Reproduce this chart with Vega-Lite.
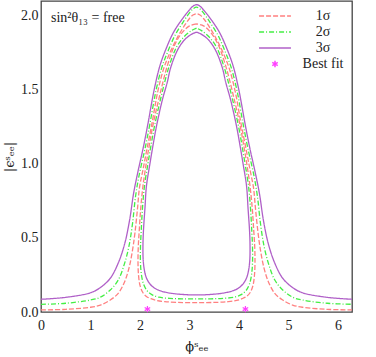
{
  "$schema": "https://vega.github.io/schema/vega-lite/v6.json",
  "autosize": {"type": "none"},
  "padding": {"left": 41, "top": 1, "right": 24, "bottom": 45},
  "width": 311,
  "height": 311,
  "title": {"text": "sin²θ₁₃ = free", "anchor": "start", "frame": "group", "orient": "top", "offset": -24, "dx": 10, "font": "Liberation Serif", "fontSize": 14, "fontWeight": "normal", "color": "#222"},
  "config": {
    "view": {"stroke": "#444", "strokeWidth": 1.3},
    "font": "Liberation Serif"
  },
  "datasets": {
    "curves": [
      {"c":"o3","s":"3σ","i":0,"x":0,"y":0.086},{"c":"o3","s":"3σ","i":1,"x":0.5,"y":0.099},{"c":"o3","s":"3σ","i":2,"x":1.0,"y":0.13},{"c":"o3","s":"3σ","i":3,"x":1.2,"y":0.165},{"c":"o3","s":"3σ","i":4,"x":1.4,"y":0.228},{"c":"o3","s":"3σ","i":5,"x":1.56,"y":0.33},{"c":"o3","s":"3σ","i":6,"x":1.69,"y":0.46},{"c":"o3","s":"3σ","i":7,"x":1.79,"y":0.62},{"c":"o3","s":"3σ","i":8,"x":1.87,"y":0.8},{"c":"o3","s":"3σ","i":9,"x":1.96,"y":0.95},{"c":"o3","s":"3σ","i":10,"x":2.06,"y":1.1},{"c":"o3","s":"3σ","i":11,"x":2.16,"y":1.27},{"c":"o3","s":"3σ","i":12,"x":2.28,"y":1.49},{"c":"o3","s":"3σ","i":13,"x":2.4,"y":1.66},{"c":"o3","s":"3σ","i":14,"x":2.53,"y":1.78},{"c":"o3","s":"3σ","i":15,"x":2.68,"y":1.89},{"c":"o3","s":"3σ","i":16,"x":2.88,"y":1.99},{"c":"o3","s":"3σ","i":17,"x":3.0,"y":2.04},{"c":"o3","s":"3σ","i":18,"x":3.07,"y":2.065},{"c":"o3","s":"3σ","i":19,"x":3.142,"y":2.075},{"c":"o3","s":"3σ","i":20,"x":3.213,"y":2.065},{"c":"o3","s":"3σ","i":21,"x":3.283,"y":2.04},{"c":"o3","s":"3σ","i":22,"x":3.403,"y":1.99},{"c":"o3","s":"3σ","i":23,"x":3.603,"y":1.89},{"c":"o3","s":"3σ","i":24,"x":3.753,"y":1.78},{"c":"o3","s":"3σ","i":25,"x":3.883,"y":1.66},{"c":"o3","s":"3σ","i":26,"x":4.003,"y":1.49},{"c":"o3","s":"3σ","i":27,"x":4.123,"y":1.27},{"c":"o3","s":"3σ","i":28,"x":4.223,"y":1.1},{"c":"o3","s":"3σ","i":29,"x":4.323,"y":0.95},{"c":"o3","s":"3σ","i":30,"x":4.413,"y":0.8},{"c":"o3","s":"3σ","i":31,"x":4.493,"y":0.62},{"c":"o3","s":"3σ","i":32,"x":4.593,"y":0.46},{"c":"o3","s":"3σ","i":33,"x":4.723,"y":0.33},{"c":"o3","s":"3σ","i":34,"x":4.883,"y":0.228},{"c":"o3","s":"3σ","i":35,"x":5.083,"y":0.165},{"c":"o3","s":"3σ","i":36,"x":5.283,"y":0.13},{"c":"o3","s":"3σ","i":37,"x":5.783,"y":0.099},{"c":"o3","s":"3σ","i":38,"x":6.283,"y":0.086},

      {"c":"o2","s":"2σ","i":0,"x":0,"y":0.052},{"c":"o2","s":"2σ","i":1,"x":0.5,"y":0.059},{"c":"o2","s":"2σ","i":2,"x":1.0,"y":0.081},{"c":"o2","s":"2σ","i":3,"x":1.2,"y":0.1},{"c":"o2","s":"2σ","i":4,"x":1.4,"y":0.149},{"c":"o2","s":"2σ","i":5,"x":1.56,"y":0.216},{"c":"o2","s":"2σ","i":6,"x":1.69,"y":0.33},{"c":"o2","s":"2σ","i":7,"x":1.78,"y":0.45},{"c":"o2","s":"2σ","i":8,"x":1.85,"y":0.6},{"c":"o2","s":"2σ","i":9,"x":1.91,"y":0.78},{"c":"o2","s":"2σ","i":10,"x":1.98,"y":0.92},{"c":"o2","s":"2σ","i":11,"x":2.1,"y":1.1},{"c":"o2","s":"2σ","i":12,"x":2.2,"y":1.27},{"c":"o2","s":"2σ","i":13,"x":2.32,"y":1.49},{"c":"o2","s":"2σ","i":14,"x":2.44,"y":1.65},{"c":"o2","s":"2σ","i":15,"x":2.57,"y":1.765},{"c":"o2","s":"2σ","i":16,"x":2.71,"y":1.87},{"c":"o2","s":"2σ","i":17,"x":2.89,"y":1.967},{"c":"o2","s":"2σ","i":18,"x":3.0,"y":2.02},{"c":"o2","s":"2σ","i":19,"x":3.07,"y":2.046},{"c":"o2","s":"2σ","i":20,"x":3.142,"y":2.058},{"c":"o2","s":"2σ","i":21,"x":3.213,"y":2.046},{"c":"o2","s":"2σ","i":22,"x":3.283,"y":2.02},{"c":"o2","s":"2σ","i":23,"x":3.393,"y":1.967},{"c":"o2","s":"2σ","i":24,"x":3.573,"y":1.87},{"c":"o2","s":"2σ","i":25,"x":3.713,"y":1.765},{"c":"o2","s":"2σ","i":26,"x":3.843,"y":1.65},{"c":"o2","s":"2σ","i":27,"x":3.963,"y":1.49},{"c":"o2","s":"2σ","i":28,"x":4.083,"y":1.27},{"c":"o2","s":"2σ","i":29,"x":4.183,"y":1.1},{"c":"o2","s":"2σ","i":30,"x":4.303,"y":0.92},{"c":"o2","s":"2σ","i":31,"x":4.373,"y":0.78},{"c":"o2","s":"2σ","i":32,"x":4.433,"y":0.6},{"c":"o2","s":"2σ","i":33,"x":4.503,"y":0.45},{"c":"o2","s":"2σ","i":34,"x":4.593,"y":0.33},{"c":"o2","s":"2σ","i":35,"x":4.723,"y":0.216},{"c":"o2","s":"2σ","i":36,"x":4.883,"y":0.149},{"c":"o2","s":"2σ","i":37,"x":5.083,"y":0.1},{"c":"o2","s":"2σ","i":38,"x":5.283,"y":0.081},{"c":"o2","s":"2σ","i":39,"x":5.783,"y":0.059},{"c":"o2","s":"2σ","i":40,"x":6.283,"y":0.052},

      {"c":"o1","s":"1σ","i":0,"x":0,"y":0.014},{"c":"o1","s":"1σ","i":1,"x":0.5,"y":0.018},{"c":"o1","s":"1σ","i":2,"x":1.0,"y":0.032},{"c":"o1","s":"1σ","i":3,"x":1.2,"y":0.047},{"c":"o1","s":"1σ","i":4,"x":1.4,"y":0.081},{"c":"o1","s":"1σ","i":5,"x":1.56,"y":0.126},{"c":"o1","s":"1σ","i":6,"x":1.69,"y":0.205},{"c":"o1","s":"1σ","i":7,"x":1.78,"y":0.3},{"c":"o1","s":"1σ","i":8,"x":1.85,"y":0.42},{"c":"o1","s":"1σ","i":9,"x":1.9,"y":0.54},{"c":"o1","s":"1σ","i":10,"x":1.95,"y":0.7},{"c":"o1","s":"1σ","i":11,"x":1.99,"y":0.84},{"c":"o1","s":"1σ","i":12,"x":2.06,"y":0.96},{"c":"o1","s":"1σ","i":13,"x":2.14,"y":1.1},{"c":"o1","s":"1σ","i":14,"x":2.24,"y":1.27},{"c":"o1","s":"1σ","i":15,"x":2.36,"y":1.49},{"c":"o1","s":"1σ","i":16,"x":2.48,"y":1.645},{"c":"o1","s":"1σ","i":17,"x":2.61,"y":1.755},{"c":"o1","s":"1σ","i":18,"x":2.75,"y":1.85},{"c":"o1","s":"1σ","i":19,"x":2.91,"y":1.94},{"c":"o1","s":"1σ","i":20,"x":3.0,"y":1.982},{"c":"o1","s":"1σ","i":21,"x":3.07,"y":2.005},{"c":"o1","s":"1σ","i":22,"x":3.142,"y":2.014},{"c":"o1","s":"1σ","i":23,"x":3.213,"y":2.005},{"c":"o1","s":"1σ","i":24,"x":3.283,"y":1.982},{"c":"o1","s":"1σ","i":25,"x":3.373,"y":1.94},{"c":"o1","s":"1σ","i":26,"x":3.533,"y":1.85},{"c":"o1","s":"1σ","i":27,"x":3.673,"y":1.755},{"c":"o1","s":"1σ","i":28,"x":3.803,"y":1.645},{"c":"o1","s":"1σ","i":29,"x":3.923,"y":1.49},{"c":"o1","s":"1σ","i":30,"x":4.043,"y":1.27},{"c":"o1","s":"1σ","i":31,"x":4.143,"y":1.1},{"c":"o1","s":"1σ","i":32,"x":4.223,"y":0.96},{"c":"o1","s":"1σ","i":33,"x":4.293,"y":0.84},{"c":"o1","s":"1σ","i":34,"x":4.333,"y":0.7},{"c":"o1","s":"1σ","i":35,"x":4.383,"y":0.54},{"c":"o1","s":"1σ","i":36,"x":4.433,"y":0.42},{"c":"o1","s":"1σ","i":37,"x":4.503,"y":0.3},{"c":"o1","s":"1σ","i":38,"x":4.593,"y":0.205},{"c":"o1","s":"1σ","i":39,"x":4.723,"y":0.126},{"c":"o1","s":"1σ","i":40,"x":4.883,"y":0.081},{"c":"o1","s":"1σ","i":41,"x":5.083,"y":0.047},{"c":"o1","s":"1σ","i":42,"x":5.283,"y":0.032},{"c":"o1","s":"1σ","i":43,"x":5.783,"y":0.018},{"c":"o1","s":"1σ","i":44,"x":6.283,"y":0.014},

      {"c":"i3","s":"3σ","i":0,"x":3.142,"y":1.89},{"c":"i3","s":"3σ","i":1,"x":3.04,"y":1.875},{"c":"i3","s":"3σ","i":2,"x":2.9,"y":1.838},{"c":"i3","s":"3σ","i":3,"x":2.76,"y":1.77},{"c":"i3","s":"3σ","i":4,"x":2.62,"y":1.65},{"c":"i3","s":"3σ","i":5,"x":2.55,"y":1.55},{"c":"i3","s":"3σ","i":6,"x":2.45,"y":1.43},{"c":"i3","s":"3σ","i":7,"x":2.33,"y":1.25},{"c":"i3","s":"3σ","i":8,"x":2.26,"y":1.12},{"c":"i3","s":"3σ","i":9,"x":2.2,"y":1.0},{"c":"i3","s":"3σ","i":10,"x":2.13,"y":0.85},{"c":"i3","s":"3σ","i":11,"x":2.1,"y":0.7},{"c":"i3","s":"3σ","i":12,"x":2.07,"y":0.55},{"c":"i3","s":"3σ","i":13,"x":2.06,"y":0.45},{"c":"i3","s":"3σ","i":14,"x":2.065,"y":0.35},{"c":"i3","s":"3σ","i":15,"x":2.09,"y":0.28},{"c":"i3","s":"3σ","i":16,"x":2.13,"y":0.23},{"c":"i3","s":"3σ","i":17,"x":2.2,"y":0.19},{"c":"i3","s":"3σ","i":18,"x":2.3,"y":0.16},{"c":"i3","s":"3σ","i":19,"x":2.42,"y":0.142},{"c":"i3","s":"3σ","i":20,"x":2.6,"y":0.128},{"c":"i3","s":"3σ","i":21,"x":2.8,"y":0.12},{"c":"i3","s":"3σ","i":22,"x":3.0,"y":0.116},{"c":"i3","s":"3σ","i":23,"x":3.142,"y":0.115},{"c":"i3","s":"3σ","i":24,"x":3.283,"y":0.116},{"c":"i3","s":"3σ","i":25,"x":3.483,"y":0.12},{"c":"i3","s":"3σ","i":26,"x":3.683,"y":0.128},{"c":"i3","s":"3σ","i":27,"x":3.863,"y":0.142},{"c":"i3","s":"3σ","i":28,"x":3.983,"y":0.16},{"c":"i3","s":"3σ","i":29,"x":4.083,"y":0.19},{"c":"i3","s":"3σ","i":30,"x":4.153,"y":0.23},{"c":"i3","s":"3σ","i":31,"x":4.193,"y":0.28},{"c":"i3","s":"3σ","i":32,"x":4.218,"y":0.35},{"c":"i3","s":"3σ","i":33,"x":4.223,"y":0.45},{"c":"i3","s":"3σ","i":34,"x":4.213,"y":0.55},{"c":"i3","s":"3σ","i":35,"x":4.183,"y":0.7},{"c":"i3","s":"3σ","i":36,"x":4.153,"y":0.85},{"c":"i3","s":"3σ","i":37,"x":4.083,"y":1.0},{"c":"i3","s":"3σ","i":38,"x":4.023,"y":1.12},{"c":"i3","s":"3σ","i":39,"x":3.953,"y":1.25},{"c":"i3","s":"3σ","i":40,"x":3.833,"y":1.43},{"c":"i3","s":"3σ","i":41,"x":3.733,"y":1.55},{"c":"i3","s":"3σ","i":42,"x":3.663,"y":1.65},{"c":"i3","s":"3σ","i":43,"x":3.523,"y":1.77},{"c":"i3","s":"3σ","i":44,"x":3.383,"y":1.838},{"c":"i3","s":"3σ","i":45,"x":3.243,"y":1.875},{"c":"i3","s":"3σ","i":46,"x":3.142,"y":1.89},

      {"c":"i2","s":"2σ","i":0,"x":3.142,"y":1.917},{"c":"i2","s":"2σ","i":1,"x":3.04,"y":1.9},{"c":"i2","s":"2σ","i":2,"x":2.9,"y":1.862},{"c":"i2","s":"2σ","i":3,"x":2.74,"y":1.79},{"c":"i2","s":"2σ","i":4,"x":2.58,"y":1.65},{"c":"i2","s":"2σ","i":5,"x":2.41,"y":1.43},{"c":"i2","s":"2σ","i":6,"x":2.29,"y":1.25},{"c":"i2","s":"2σ","i":7,"x":2.22,"y":1.12},{"c":"i2","s":"2σ","i":8,"x":2.16,"y":1.0},{"c":"i2","s":"2σ","i":9,"x":2.09,"y":0.85},{"c":"i2","s":"2σ","i":10,"x":2.05,"y":0.7},{"c":"i2","s":"2σ","i":11,"x":2.025,"y":0.55},{"c":"i2","s":"2σ","i":12,"x":2.01,"y":0.44},{"c":"i2","s":"2σ","i":13,"x":2.01,"y":0.33},{"c":"i2","s":"2σ","i":14,"x":2.03,"y":0.25},{"c":"i2","s":"2σ","i":15,"x":2.07,"y":0.19},{"c":"i2","s":"2σ","i":16,"x":2.14,"y":0.145},{"c":"i2","s":"2σ","i":17,"x":2.24,"y":0.117},{"c":"i2","s":"2σ","i":18,"x":2.38,"y":0.1},{"c":"i2","s":"2σ","i":19,"x":2.6,"y":0.092},{"c":"i2","s":"2σ","i":20,"x":2.85,"y":0.089},{"c":"i2","s":"2σ","i":21,"x":3.142,"y":0.088},{"c":"i2","s":"2σ","i":22,"x":3.433,"y":0.089},{"c":"i2","s":"2σ","i":23,"x":3.683,"y":0.092},{"c":"i2","s":"2σ","i":24,"x":3.903,"y":0.1},{"c":"i2","s":"2σ","i":25,"x":4.043,"y":0.117},{"c":"i2","s":"2σ","i":26,"x":4.143,"y":0.145},{"c":"i2","s":"2σ","i":27,"x":4.213,"y":0.19},{"c":"i2","s":"2σ","i":28,"x":4.253,"y":0.25},{"c":"i2","s":"2σ","i":29,"x":4.273,"y":0.33},{"c":"i2","s":"2σ","i":30,"x":4.273,"y":0.44},{"c":"i2","s":"2σ","i":31,"x":4.258,"y":0.55},{"c":"i2","s":"2σ","i":32,"x":4.233,"y":0.7},{"c":"i2","s":"2σ","i":33,"x":4.193,"y":0.85},{"c":"i2","s":"2σ","i":34,"x":4.123,"y":1.0},{"c":"i2","s":"2σ","i":35,"x":4.063,"y":1.12},{"c":"i2","s":"2σ","i":36,"x":3.993,"y":1.25},{"c":"i2","s":"2σ","i":37,"x":3.873,"y":1.43},{"c":"i2","s":"2σ","i":38,"x":3.703,"y":1.65},{"c":"i2","s":"2σ","i":39,"x":3.543,"y":1.79},{"c":"i2","s":"2σ","i":40,"x":3.383,"y":1.862},{"c":"i2","s":"2σ","i":41,"x":3.243,"y":1.9},{"c":"i2","s":"2σ","i":42,"x":3.142,"y":1.917},

      {"c":"i1","s":"1σ","i":0,"x":3.142,"y":1.945},{"c":"i1","s":"1σ","i":1,"x":3.0,"y":1.932},{"c":"i1","s":"1σ","i":2,"x":2.86,"y":1.89},{"c":"i1","s":"1σ","i":3,"x":2.71,"y":1.81},{"c":"i1","s":"1σ","i":4,"x":2.55,"y":1.66},{"c":"i1","s":"1σ","i":5,"x":2.375,"y":1.43},{"c":"i1","s":"1σ","i":6,"x":2.255,"y":1.25},{"c":"i1","s":"1σ","i":7,"x":2.185,"y":1.12},{"c":"i1","s":"1σ","i":8,"x":2.125,"y":1.0},{"c":"i1","s":"1σ","i":9,"x":2.06,"y":0.85},{"c":"i1","s":"1σ","i":10,"x":2.015,"y":0.7},{"c":"i1","s":"1σ","i":11,"x":1.985,"y":0.55},{"c":"i1","s":"1σ","i":12,"x":1.965,"y":0.44},{"c":"i1","s":"1σ","i":13,"x":1.96,"y":0.33},{"c":"i1","s":"1σ","i":14,"x":1.97,"y":0.25},{"c":"i1","s":"1σ","i":15,"x":2.0,"y":0.18},{"c":"i1","s":"1σ","i":16,"x":2.06,"y":0.13},{"c":"i1","s":"1σ","i":17,"x":2.13,"y":0.105},{"c":"i1","s":"1σ","i":18,"x":2.22,"y":0.09},{"c":"i1","s":"1σ","i":19,"x":2.33,"y":0.078},{"c":"i1","s":"1σ","i":20,"x":2.5,"y":0.07},{"c":"i1","s":"1σ","i":21,"x":2.75,"y":0.065},{"c":"i1","s":"1σ","i":22,"x":3.142,"y":0.063},{"c":"i1","s":"1σ","i":23,"x":3.533,"y":0.065},{"c":"i1","s":"1σ","i":24,"x":3.783,"y":0.07},{"c":"i1","s":"1σ","i":25,"x":3.953,"y":0.078},{"c":"i1","s":"1σ","i":26,"x":4.063,"y":0.09},{"c":"i1","s":"1σ","i":27,"x":4.153,"y":0.105},{"c":"i1","s":"1σ","i":28,"x":4.223,"y":0.13},{"c":"i1","s":"1σ","i":29,"x":4.283,"y":0.18},{"c":"i1","s":"1σ","i":30,"x":4.313,"y":0.25},{"c":"i1","s":"1σ","i":31,"x":4.323,"y":0.33},{"c":"i1","s":"1σ","i":32,"x":4.318,"y":0.44},{"c":"i1","s":"1σ","i":33,"x":4.298,"y":0.55},{"c":"i1","s":"1σ","i":34,"x":4.268,"y":0.7},{"c":"i1","s":"1σ","i":35,"x":4.223,"y":0.85},{"c":"i1","s":"1σ","i":36,"x":4.158,"y":1.0},{"c":"i1","s":"1σ","i":37,"x":4.098,"y":1.12},{"c":"i1","s":"1σ","i":38,"x":4.028,"y":1.25},{"c":"i1","s":"1σ","i":39,"x":3.908,"y":1.43},{"c":"i1","s":"1σ","i":40,"x":3.733,"y":1.66},{"c":"i1","s":"1σ","i":41,"x":3.573,"y":1.81},{"c":"i1","s":"1σ","i":42,"x":3.423,"y":1.89},{"c":"i1","s":"1σ","i":43,"x":3.283,"y":1.932},{"c":"i1","s":"1σ","i":44,"x":3.142,"y":1.945}
    ],
    "best": [
      {"s": "Best fit", "x": 2.15, "y": 0.02},
      {"s": "Best fit", "x": 4.13, "y": 0.02}
    ]
  },
  "resolve": {"axis": {"x": "independent", "y": "independent"}},
  "layer": [
    {
      "data": {"name": "curves"},
      "mark": {"type": "line", "strokeWidth": 1.3, "interpolate": "catmull-rom", "clip": true},
      "encoding": {
        "x": {"field": "x", "type": "quantitative", "scale": {"domain": [0, 6.2832], "nice": false, "zero": false},
          "axis": {"orient": "bottom", "values": [0,0.2,0.4,0.6,0.8,1,1.2,1.4,1.6,1.8,2,2.2,2.4,2.6,2.8,3,3.2,3.4,3.6,3.8,4,4.2,4.4,4.6,4.8,5,5.2,5.4,5.6,5.8,6,6.2],
            "labelExpr": "datum.value % 1 === 0 ? '' + datum.value : ''",
            "tickSize": 0,
            "encode": {"ticks": {"update": {"y2": {"signal": "datum.value % 1 === 0 ? -6 : -3"}}}},
            "tickColor": "#444", "tickWidth": 1, "domain": false, "grid": false,
            "labelFont": "Liberation Serif", "labelFontSize": 14, "labelColor": "#222", "labelPadding": 6, "labelFlush": false, "labelOverlap": false,
            "title": "ϕˢₑₑ", "titleFont": "DejaVu Serif", "titleFontSize": 13, "titleFontWeight": "normal", "titleColor": "#222", "titlePadding": 8}},
        "y": {"field": "y", "type": "quantitative", "scale": {"domain": [0, 2.1], "nice": false, "zero": false},
          "axis": {"orient": "left", "values": [0,0.1,0.2,0.3,0.4,0.5,0.6,0.7,0.8,0.9,1,1.1,1.2,1.3,1.4,1.5,1.6,1.7,1.8,1.9,2],
            "labelExpr": "indexof([0,0.5,1,1.5,2], datum.value) >= 0 ? format(datum.value, '.1f') : ''",
            "tickSize": 0,
            "encode": {"ticks": {"update": {"x2": {"signal": "indexof([0,0.5,1,1.5,2], datum.value) >= 0 ? 6 : 3"}}}},
            "tickColor": "#444", "tickWidth": 1, "domain": false, "grid": false,
            "labelFont": "Liberation Serif", "labelFontSize": 14, "labelColor": "#222", "labelPadding": 3, "labelOverlap": false, "labelFlush": false,
            "title": "|ϵˢₑₑ|", "titleFont": "DejaVu Serif", "titleFontSize": 13, "titleFontWeight": "normal", "titleColor": "#222", "titlePadding": 4}},
        "detail": {"field": "c"},
        "order": {"field": "i", "type": "quantitative"},
        "color": {"field": "s", "type": "nominal",
          "scale": {"domain": ["1σ", "2σ", "3σ", "Best fit"], "range": ["#ff8080", "#44ee44", "#b060c8", "#ff40ff"]},
          "legend": {"orient": "none", "legendX": 227, "legendY": 8, "title": null,
            "labelFont": "Liberation Serif", "labelFontSize": 14, "labelColor": "#222",
            "symbolType": "M-3,0L3,0", "symbolSize": 113, "symbolStrokeWidth": 1.5, "rowPadding": 2,
            "labelAlign": "center", "labelOffset": 41,
            "encode": {"symbols": {"update": {
              "shape": {"signal": "datum.value === 'Best fit' ? 'M0,-1L0,1M-0.87,-0.5L0.87,0.5M-0.87,0.5L0.87,-0.5' : 'M-3,0L3,0'"},
              "size": {"signal": "datum.value === 'Best fit' ? 40 : 113"},
              "strokeDash": {"signal": "datum.value === '1σ' ? [5,2] : datum.value === '2σ' ? [5,2,1,2] : [1,0]"},
              "fill": {"value": "transparent"},
              "strokeWidth": {"value": 1.5}
            }}}}},
        "strokeDash": {"field": "s", "type": "nominal", "scale": {"domain": ["1σ", "2σ", "3σ"], "range": [[5,2],[5,2,1,2],[1,0]]}, "legend": null}
      }
    },
    {
      "data": {"name": "best"},
      "mark": {"type": "point", "shape": "M0,-1L0,1M-0.87,-0.5L0.87,0.5M-0.87,0.5L0.87,-0.5", "filled": false, "size": 40, "strokeWidth": 1.2, "opacity": 1},
      "encoding": {
        "x": {"field": "x", "type": "quantitative",
          "axis": {"orient": "top", "values": [0,0.2,0.4,0.6,0.8,1,1.2,1.4,1.6,1.8,2,2.2,2.4,2.6,2.8,3,3.2,3.4,3.6,3.8,4,4.2,4.4,4.6,4.8,5,5.2,5.4,5.6,5.8,6,6.2],
            "labels": false, "title": null, "domain": false, "grid": false, "tickColor": "#444", "tickSize": 0,
            "encode": {"ticks": {"update": {"y2": {"signal": "datum.value % 1 === 0 ? 6 : 3"}}}}}},
        "y": {"field": "y", "type": "quantitative",
          "axis": {"orient": "right", "values": [0,0.1,0.2,0.3,0.4,0.5,0.6,0.7,0.8,0.9,1,1.1,1.2,1.3,1.4,1.5,1.6,1.7,1.8,1.9,2],
            "labels": false, "title": null, "domain": false, "grid": false, "tickColor": "#444", "tickSize": 0,
            "encode": {"ticks": {"update": {"x2": {"signal": "indexof([0,0.5,1,1.5,2], datum.value) >= 0 ? -6 : -3"}}}}}},
        "color": {"field": "s", "type": "nominal"}
      }
    }
  ]
}
